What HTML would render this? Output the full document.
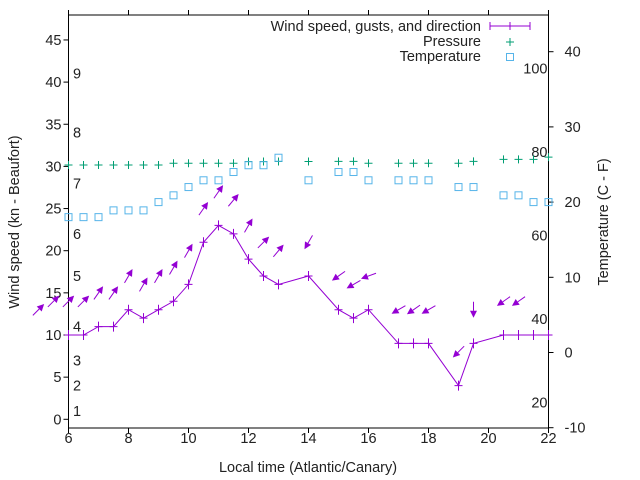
<!DOCTYPE html>
<html><head><meta charset="utf-8"><style>
html,body{margin:0;padding:0;background:#fff;}
svg{display:block;font-family:"Liberation Sans",sans-serif;}
text{fill:#222;font-size:14.5px;}
</style></head><body>
<svg id="chart" width="640" height="480" viewBox="0 0 640 480">
<g id="axes"></g>
<g id="marks"></g>
<g id="legend">
  <text x="481" y="31" text-anchor="end">Wind speed, gusts, and direction</text>
  <line x1="490" y1="26" x2="530" y2="26" stroke="#9400d3"/>
  <line x1="490" y1="22" x2="490" y2="30" stroke="#9400d3"/>
  <line x1="530" y1="22" x2="530" y2="30" stroke="#9400d3"/>
  <line x1="510" y1="22" x2="510" y2="30" stroke="#9400d3"/>
  <text x="481" y="46" text-anchor="end">Pressure</text>
  <path d="M506 42h8M510 38v8" stroke="#009e73"/>
  <text x="481" y="61" text-anchor="end">Temperature</text>
  <rect x="506.5" y="53.5" width="7" height="7" fill="none" stroke="#56b4e9"/>
</g>
</svg>
<script>
const windTimes=[6,6.5,7,7.5,8,8.5,9,9.5,10,10.5,11,11.5,12,12.5,13,14,15,15.5,16,17,17.5,18,19,19.5,20.5,21,21.5,22];
const windSpeed=[10,10,11,11,13,12,13,14,16,21,23,22,19,17,16,17,13,12,13,9,9,9,4,9,10,10,10,10];
const gustTimes=[5,5.5,6,6.5,7,7.5,8,8.5,9,9.5,10,10.5,11,11.5,12,12.5,13,14,15,15.5,16,17,17.5,18,19,19.5,20.5,21];
const gustSpeed=[13,14,14,14,15,15,17,16,17,18,20,25,27,26,23,21,20,21,17,16,17,13,13,13,8,13,14,14];
const gustDir=[45,45,45,45,35,35,30,30,30,30,30,35,35,40,30,45,40,210,235,240,250,240,235,240,225,180,235,235];
const pressTimes=[6,6.5,7,7.5,8,8.5,9,9.5,10,10.5,11,11.5,12,12.5,13,14,15,15.5,16,17,17.5,18,19,19.5,20.5,21,21.5,22];
const pressVal=[30.17,30.17,30.17,30.17,30.17,30.17,30.17,30.37,30.37,30.37,30.37,30.37,30.58,30.58,30.58,30.58,30.6,30.6,30.37,30.37,30.37,30.37,30.37,30.6,30.84,30.84,30.84,31.1];
const tempTimes=[6,6.5,7,7.5,8,8.5,9,9.5,10,10.5,11,11.5,12,12.5,13,14,15,15.5,16,17,17.5,18,19,19.5,20.5,21,21.5,22];
const tempC=[18,18,18,18.9,18.9,18.9,20,20.9,22,22.9,22.9,24,24.9,24.9,25.9,22.9,24,24,22.9,22.9,22.9,22.9,22,22,20.9,20.9,20,20];
const xTicks=[6,8,10,12,14,16,18,20,22];
const yTicks=[0,5,10,15,20,25,30,35,40,45];
const y2Ticks=[-10,0,10,20,30,40];
const fTicks=[20,40,60,80,100];
const beaufortKn=[1,4,7,11,17,22,28,34,41];
const beaufortLbl=["1","2","3","4","5","6","7","8","9"];

const L=68.5,R=548.5,T=15,B=428;
const X=t=>L+(t-6)*(R-L)/16;
const Y=v=>419.3-v*8.43;
const Y2=c=>427.7-(c+10)*7.52;
const NS="http://www.w3.org/2000/svg";
function mk(parent,tag,attrs,txt){const e=document.createElementNS(NS,tag);for(const k in attrs)e.setAttribute(k,attrs[k]);if(txt!==undefined)e.textContent=txt;parent.appendChild(e);return e;}
const ax=document.getElementById('axes'),mg=document.getElementById('marks');

let e=mk(ax,'rect',{x:L,y:T,width:R-L,height:B-T,fill:'none',stroke:'#000','stroke-width':1});


xTicks.forEach(t=>{
 let a=mk(ax,'path',{d:`M${X(t)} ${B}v5M${X(t)} ${T}v-5`,stroke:'#000'});
 
 
 let l=mk(ax,'text',{x:X(t),y:B+15,'text-anchor':'middle'},String(t));
 
 
});
yTicks.forEach(v=>{
 let a=mk(ax,'path',{d:`M${L} ${Y(v)}h-5`,stroke:'#000'});
 
 
 let l=mk(ax,'text',{x:L-7,y:Y(v)+5,'text-anchor':'end'},String(v));
 
 
});
y2Ticks.forEach(v=>{
 let a=mk(ax,'path',{d:`M${R} ${Y2(v)}h5`,stroke:'#000'});
 
 
 let l=mk(ax,'text',{x:R+16,y:Y2(v)+5,'text-anchor':'start'},String(v));
 
 
});
fTicks.forEach(f=>{
 const c=(f-32)*5/9;
 let l=mk(ax,'text',{x:R-1,y:Y2(c)+5,'text-anchor':'end'},String(f));
 
 
});
beaufortKn.forEach((k,i)=>{
 let l=mk(ax,'text',{x:73,y:Y(k)+5,'text-anchor':'start'},beaufortLbl[i]);
 
 
});
e=mk(ax,'text',{x:308,y:472,'text-anchor':'middle'},'Local time (Atlantic/Canary)');


e=mk(ax,'text',{x:0,y:0,'text-anchor':'middle',transform:'translate(19,222) rotate(-90)'},'Wind speed (kn - Beaufort)');


e=mk(ax,'text',{x:0,y:0,'text-anchor':'middle',transform:'translate(608,222) rotate(-90)'},'Temperature (C - F)');



// pressure
pressTimes.forEach((t,i)=>{
 const x=X(t),y=Y(pressVal[i]);
 let p=mk(mg,'path',{d:`M${x-4} ${y}h8M${x} ${y-4}v8`,stroke:'#009e73'});
 
 
});
// temperature
tempTimes.forEach((t,i)=>{
 const x=X(t),y=Y2(tempC[i]);
 let r=mk(mg,'rect',{x:x-3.5,y:y-3.5,width:7,height:7,fill:'none',stroke:'#56b4e9'});
 
 
});
// wind line
let pts=windTimes.map((t,i)=>X(t)+','+Y(windSpeed[i])).join(' ');
e=mk(mg,'polyline',{points:pts,fill:'none',stroke:'#9400d3','stroke-width':1});


windTimes.forEach((t,i)=>{
 const x=X(t),y=Y(windSpeed[i]);
 let p=mk(mg,'path',{d:`M${x-4} ${y}h8M${x} ${y-5}v10`,stroke:'#9400d3'});
 
 
});
// gust arrows
gustTimes.forEach((t,i)=>{
 const cx=X(t),cy=Y(gustSpeed[i]);
 const a=gustDir[i]*Math.PI/180,dx=Math.sin(a),dy=-Math.cos(a),len=16;
 const x1=cx-dx*len/2,y1=cy-dy*len/2,x2=cx+dx*len/2,y2=cy+dy*len/2;
 const hx=x2-dx*7,hy=y2-dy*7,px=-dy*3.5,py=dx*3.5;
 let g=mk(mg,'g',{});
 
 
 mk(g,'line',{x1:x1,y1:y1,x2:hx,y2:hy,stroke:'#9400d3','stroke-width':1});
 mk(g,'polygon',{points:`${x2},${y2} ${hx+px},${hy+py} ${hx-px},${hy-py}`,fill:'#9400d3'});
});
</script>
</body></html>
